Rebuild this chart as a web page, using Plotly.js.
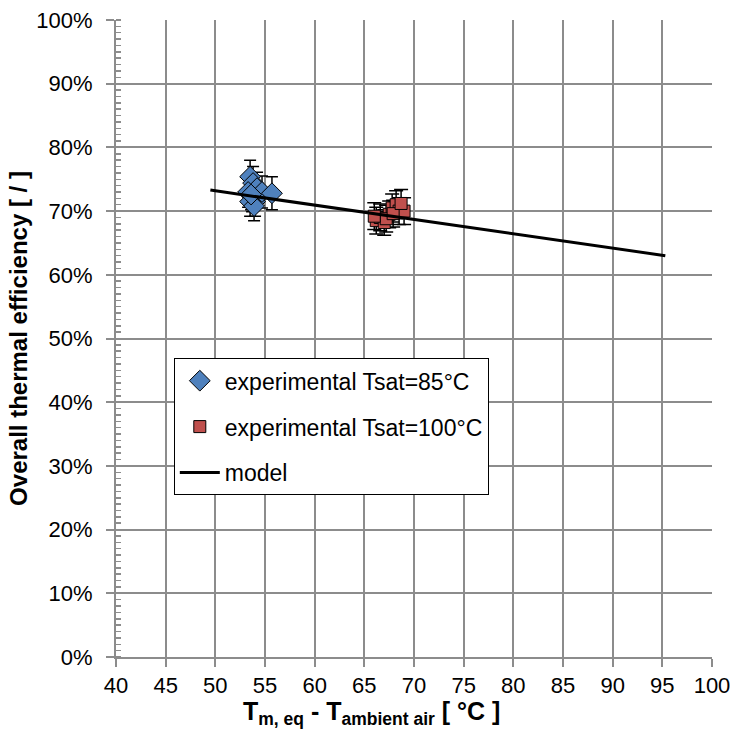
<!DOCTYPE html>
<html>
<head>
<meta charset="utf-8">
<script src="https://cdn.plot.ly/plotly-3.0.1.min.js"></script>
<style>html,body{margin:0;padding:0;background:#fff;}#chart{width:734px;height:731px;}</style>
</head>
<body>
<div id="chart"></div>
<script>
// Experimental Tsat=85°C
const x85 = [53.5, 53.8, 54.2, 53.3, 53.7, 54.0, 53.5, 54.7, 55.7, 53.9, 53.6];
const y85 = [75.4, 74.4, 73.6, 73.0, 72.3, 71.5, 71.5, 73.0, 72.8, 70.8, 72.6];
const e85 = [2.6, 2.6, 2.5, 2.4, 2.4, 2.3, 2.3, 2.5, 2.6, 2.3, 2.4];
// Experimental Tsat=100°C
const x100 = [66.2, 66.6, 67.0, 67.5, 67.8, 68.2, 68.5, 69.0, 67.2, 66.0, 67.9, 68.7];
const y100 = [68.5, 69.0, 68.2, 69.5, 70.5, 71.0, 70.0, 70.0, 68.8, 69.2, 69.6, 71.2];
const e100 = [2.1, 2.1, 2.0, 2.1, 2.2, 2.2, 2.1, 2.1, 2.1, 2.1, 2.1, 2.2];
// Model
const xModel = [49.5, 95.3];
const yModel = [73.3, 63.0];

const font = 'Arial, Liberation Sans, sans-serif';
const gridCol = '#8c8c8c';

const traces = [
  {x: x85, y: y85, type: 'scatter', mode: 'markers', name: 'experimental Tsat=85°C', legendgroup: 'a',
   marker: {symbol: 'diamond', size: 16, color: '#4f81bd', line: {color: '#000', width: 1}},
   error_y: {type: 'data', array: e85, visible: true, color: '#000', thickness: 1.5, width: 6}},
  {x: x100, y: y100, type: 'scatter', mode: 'markers', name: 'experimental Tsat=100°C', legendgroup: 'b',
   marker: {symbol: 'square', size: 12, color: '#c0504d', line: {color: '#000', width: 1}},
   error_y: {type: 'data', array: e100, visible: true, color: '#000', thickness: 1.5, width: 7}},
  {x: xModel, y: yModel, type: 'scatter', mode: 'lines', name: 'model', legendgroup: 'c',
   line: {color: '#000', width: 3}}
];

const layout = {
  width: 734, height: 731,
  margin: {l: 116, r: 22, t: 20, b: 74},
  paper_bgcolor: '#fff', plot_bgcolor: '#fff',
  font: {family: font, size: 22, color: '#000'},
  showlegend: true,
  legend: {x: 0.097, y: 0.469, xanchor: 'left', yanchor: 'top',
           bgcolor: '#fff', bordercolor: '#000', borderwidth: 1,
           font: {family: font, size: 23, color: '#000'},
           traceorder: 'grouped', tracegroupgap: 13, itemwidth: 40},
  xaxis: {range: [40, 100], dtick: 5, tick0: 40, showgrid: true, gridcolor: gridCol, gridwidth: 2,
          showline: true, linecolor: gridCol, linewidth: 2, ticks: 'outside', ticklen: 8, tickcolor: gridCol, tickwidth: 2,
          zeroline: false, tickfont: {family: font, size: 22, color: '#000'}},
  yaxis: {range: [0, 100], dtick: 10, tick0: 0, ticksuffix: '%', showgrid: true, gridcolor: gridCol, gridwidth: 2,
          showline: true, linecolor: gridCol, linewidth: 2, ticks: 'outside', ticklen: 8, tickcolor: gridCol, tickwidth: 2,
          ticklabelstandoff: 9,
          zeroline: false, tickfont: {family: font, size: 22, color: '#000'},
          minor: {dtick: 1, ticks: 'inside', ticklen: 5, tickcolor: gridCol, tickwidth: 1.5, showgrid: false},
          title: {text: '<b>Overall thermal efficiency [ / ]</b>', font: {family: font, size: 24, color: '#000'}, standoff: 2}},
  annotations: [{
    text: '<b>T<sub>m, eq</sub> - T<sub>ambient air</sub> [ °C ]</b>',
    xref: 'paper', yref: 'paper', x: 0.428, y: -0.088, xanchor: 'center', yanchor: 'middle',
    showarrow: false, font: {family: font, size: 25, color: '#000'}
  }]
};

Plotly.newPlot('chart', traces, layout, {displayModeBar: false, staticPlot: true});
</script>
</body>
</html>
